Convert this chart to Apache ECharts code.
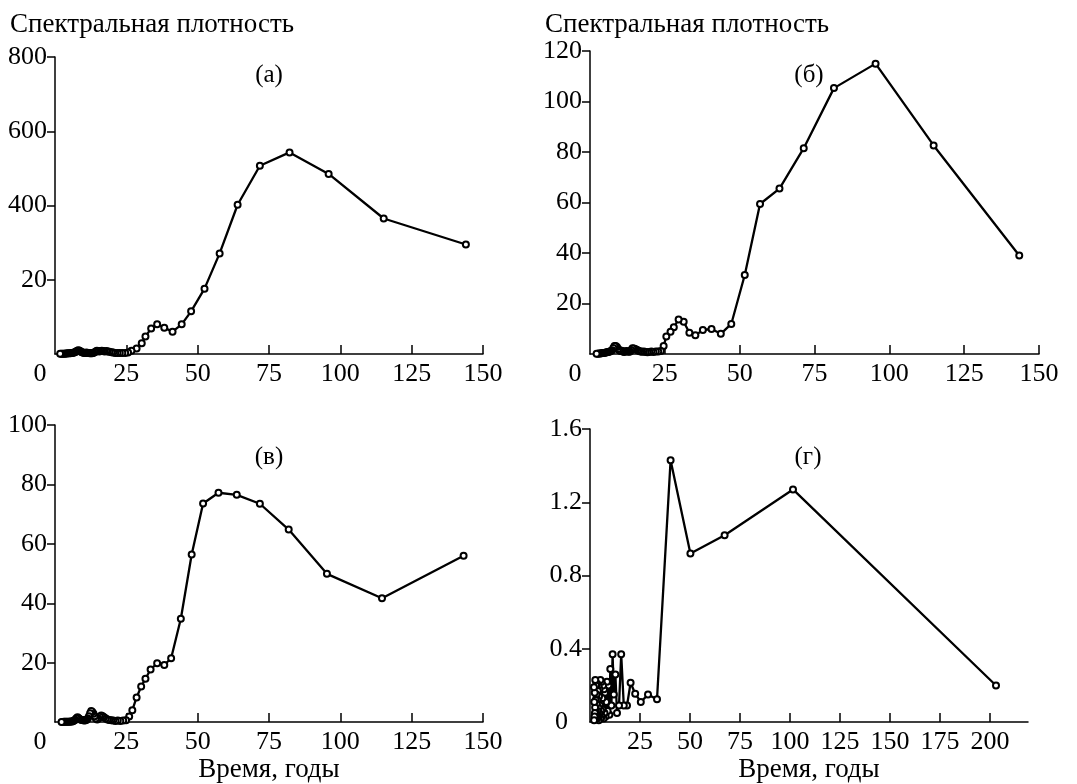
<!DOCTYPE html>
<html>
<head>
<meta charset="utf-8">
<script src="https://cdn.jsdelivr.net/npm/echarts@6/dist/echarts.min.js"></script>
<style>html,body{margin:0;padding:0;background:#fff}#c{width:1077px;height:784px}</style>
</head>
<body>
<div id="c"></div>
<script>
// ---------- data ----------
const periodsA = [144,115.2,95.9,82.2,71.8,64,57.7,52.4,47.7,44.4,41.2,38.3,35.8,33.7,31.7,30.4,28.6,26.8,
  25.6,24.6,23.6,22.7,21.9,21.1,20.4,19.8,19.1,18.5,18.0,17.4,16.9,16.4,16.0,15.5,15.1,14.7,14.3,13.9,13.4,13.0,
  12.6,12.2,11.8,11.4,11.0,10.6,10.2,9.8,9.4,9.0,8.6,8.2,7.8,7.4,7.0,6.6,6.2,5.8,5.4,5.0,4.6,4.2,3.8,3.4,3.0,2.6,2.2,1.8];
const densityA = [295,365,485,543,507,402,271,176,115,80,60,71,80,69,47,29,15,9,
  4,3,3,3,3,3,4,5,6,7,8,7,8,9,8,7,8,9,7,5,3,2,
  2,2,3,3,4,3,3,4,5,7,9,10,9,7,5,4,3,3,2,2,2,1.5,1.5,1,1,1,1,1];

const periodsB = [143.4,114.8,95.4,81.5,71.4,63.3,56.8,51.7,47.2,43.7,40.6,37.7,35.2,33.2,31.3,29.6,28.0,26.9,25.5,24.6,
  23.7,22.8,22.0,21.2,20.5,19.8,19.2,18.6,18.0,17.4,16.9,16.4,15.9,15.4,15.0,14.6,14.2,13.8,13.4,13.0,12.6,12.2,11.8,11.4,
  11.0,10.6,10.2,9.8,9.4,9.0,8.6,8.2,7.8,7.4,7.0,6.6,6.2,5.8,5.4,5.0,4.6,4.2,3.8,3.4,3.0,2.6,2.2];
const densityB = [39,82.6,115,105.3,81.5,65.5,59.4,31.3,11.9,8.0,9.9,9.5,7.4,8.4,12.8,13.7,10.6,8.8,6.9,3.2,
  1.2,1.0,1.0,0.8,1.0,0.8,0.7,0.8,1.0,0.9,1.0,1.2,1.5,1.8,2.0,2.2,2.3,1.6,1.0,0.9,1.0,1.2,1.0,0.8,
  1.0,1.3,1.2,1.5,2.0,2.8,3.2,3.2,2.4,1.5,1.2,1.0,0.8,0.8,0.6,0.5,0.4,0.4,0.3,0.2,0.2,0.1,0.1];

const periodsC = [143.2,114.6,95.3,81.9,71.8,63.7,57.3,51.9,47.9,44.1,40.7,38.3,35.8,33.5,31.7,30.2,28.6,27.1,26.0,
  24.9,23.9,22.9,22.0,21.2,20.4,19.7,19.0,18.4,17.8,17.2,16.7,16.2,15.7,15.2,14.8,14.3,13.9,13.5,13.1,12.7,12.3,11.9,
  11.5,11.1,10.7,10.3,9.9,9.5,9.1,8.7,8.3,7.9,7.5,7.1,6.7,6.3,5.9,5.5,5.1,4.7,4.3,3.9,3.5,3.1,2.7,2.3];
const densityC = [56.0,41.7,49.9,64.8,73.5,76.5,77.2,73.6,56.4,34.8,21.5,19.2,19.8,17.7,14.6,12.0,8.3,4.0,1.9,
  0.6,0.5,0.4,0.5,0.4,0.5,0.6,0.7,0.9,1.2,1.6,2.0,2.2,1.8,1.2,0.9,1.2,2.0,2.8,3.4,3.7,3.0,2.0,
  1.2,0.8,0.6,0.5,0.6,0.7,0.8,1.0,1.3,1.6,1.3,0.8,0.5,0.3,0.2,0.2,0.15,0.1,0.1,0.1,0.1,0.1,0.05,0.05];

const periodsD = [203,101.5,67.3,50.2,40.3,33.5,29,25.4,22.6,20.3,18.5,16.9,15.6,14.5,13.5,12.7,11.9,11.3,10.7,10.15,
  9.7,9.2,8.8,8.5,8.1,7.8,7.5,7.25,7.0,6.8,6.5,6.3,6.15,6.0,5.8,5.6,5.45,5.3,5.2,5.05,4.9,4.75,4.6,4.5,4.4,4.3,4.2,
  4.05,3.95,3.85,3.75,3.65,3.55,3.45,3.35,3.25,3.15,3.05,2.95,2.85,2.75,2.65,2.55,2.45,2.35,2.25,2.15,2.05,2.0];
const densityD = [0.20,1.27,1.02,0.92,1.43,0.125,0.15,0.11,0.155,0.215,0.09,0.09,0.37,0.09,0.05,0.26,0.15,0.37,0.09,0.29,
  0.04,0.2,0.06,0.22,0.11,0.03,0.16,0.05,0.18,0.02,0.2,0.07,0.13,0.03,0.22,0.06,0.1,0.02,0.23,0.09,0.04,0.18,0.05,0.14,0.01,0.2,0.08,
  0.03,0.17,0.06,0.12,0.02,0.21,0.04,0.1,0.15,0.03,0.2,0.06,0.12,0.02,0.23,0.08,0.05,0.16,0.03,0.11,0.01,0.19];

const xTicks150 = [25,50,75,100,125,150];
const xLabels150 = [0,25,50,75,100,125,150];
const xTicks220 = [25,50,75,100,125,150,175,200];
const yTicksA = [200,400,600,800];   const yLabelsA = ['20','400','600','800'];
const yTicksB = [20,40,60,80,100,120]; const yLabelsB = ['20','40','60','80','100','120'];
const yTicksC = [20,40,60,80,100];   const yLabelsC = ['20','40','60','80','100'];
const yTicksD = [0.4,0.8,1.2,1.6];   const yValuesD = [0,0.4,0.8,1.2,1.6]; const yLabelsD = ['0','0.4','0.8','1.2','1.6'];
const panelLabels = ['(а)','(б)','(в)','(г)'];
const yTitle = 'Спектральная плотность';
const xTitle = 'Время, годы';

// ---------- chart ----------
const FONT = 'Liberation Serif';
const FS = 26;
const black = '#000';

function pairs(xs, ys){ return xs.map((x,i)=>[x, ys[i]]); }

function xAxis(gi, max, ticks, labels, withName, shiftZero){
  return {
    type:'value', gridIndex:gi, min:0, max:max,
    axisLine:{show:true, onZero:false, lineStyle:{color:black, width:1.5}},
    axisTick:{show:true, inside:true, length:9, customValues:ticks, lineStyle:{color:black, width:1.5}},
    axisLabel:{show:true, customValues:labels, margin:7, color:black, fontFamily:FONT, fontSize:FS,
      formatter:function(v){ return (v===0 && shiftZero) ? '{z|0}' : String(v); },
      rich:{z:{fontFamily:FONT, fontSize:FS, color:black, padding:[0,30,0,0]}}},
    splitLine:{show:false},
    name: withName ? xTitle : '',
    nameLocation:'middle', nameGap:33,
    nameTextStyle:{fontFamily:FONT, fontSize:27, color:black}
  };
}
function yAxis(gi, max, interval, ticks, labelVals, labels, shiftZero){
  return {
    type:'value', gridIndex:gi, min:0, max:max, interval:interval,
    axisLine:{show:true, onZero:false, lineStyle:{color:black, width:1.5}},
    axisTick:{show:true, inside:false, length:8, customValues:ticks, lineStyle:{color:black, width:1.5}},
    axisLabel:{show:true, customValues:labelVals, margin:8, color:black, fontFamily:FONT, fontSize:FS,
      formatter:function(v){
        let idx = labelVals.findIndex(t=>Math.abs(t-v)<1e-9);
        let s = idx>=0 ? labels[idx] : '';
        return (shiftZero && v===0) ? '{z|'+s+'}' : s;
      },
      rich:{z:{fontFamily:FONT, fontSize:FS, color:black, padding:[0,14,0,0]}}},
    splitLine:{show:false}
  };
}
function lineSeries(gi, data){
  return {
    type:'line', xAxisIndex:gi, yAxisIndex:gi, data:data,
    symbol:'emptyCircle', symbolSize:6, showSymbol:true,
    lineStyle:{color:black, width:2.3},
    itemStyle:{color:black, borderColor:black, borderWidth:1},
    animation:false
  };
}
function txt(text, x, y, align, size){
  return {type:'text', x:x, y:y, style:{text:text, fontFamily:FONT, fontSize:size||25, fill:black, align:align||'center', verticalAlign:'middle'}};
}

const chart = echarts.init(document.getElementById('c'), null, {renderer:'canvas'});
chart.setOption({
  animation:false,
  backgroundColor:'#fff',
  grid:[
    {left:55, top:57, width:428, height:297},
    {left:590, top:51, width:449, height:303},
    {left:55, top:425, width:428, height:298},
    {left:590, top:429, width:438, height:294}
  ],
  xAxis:[
    xAxis(0,150,xTicks150,xLabels150,false,true),
    xAxis(1,150,xTicks150,xLabels150,false,true),
    xAxis(2,150,xTicks150,xLabels150,true,true),
    xAxis(3,219,xTicks220,xTicks220,true,false)
  ],
  yAxis:[
    yAxis(0,800,200,yTicksA,yTicksA,yLabelsA,false),
    yAxis(1,120,20,yTicksB,yTicksB,yLabelsB,false),
    yAxis(2,100,20,yTicksC,yTicksC,yLabelsC,false),
    yAxis(3,1.6,0.4,yTicksD,yValuesD,yLabelsD,true)
  ],
  series:[
    lineSeries(0,pairs(periodsA,densityA)),
    lineSeries(1,pairs(periodsB,densityB)),
    lineSeries(2,pairs(periodsC,densityC)),
    lineSeries(3,pairs(periodsD,densityD))
  ],
  graphic:[
    txt(yTitle, 10, 25, 'left', 27),
    txt(yTitle, 545, 25, 'left', 27),
    txt(panelLabels[0], 269, 75),
    txt(panelLabels[1], 809, 75),
    txt(panelLabels[2], 269, 457),
    txt(panelLabels[3], 808, 457)
  ]
});
</script>
</body>
</html>
